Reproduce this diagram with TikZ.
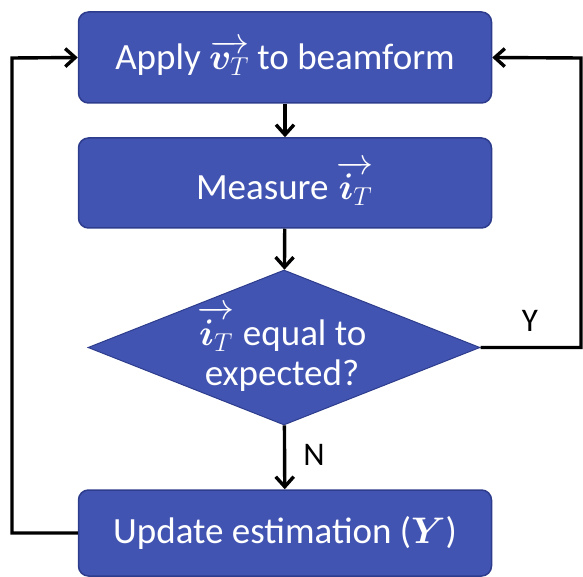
\RequirePackage{fix-cm}
\documentclass[tikz,border=0pt]{standalone}
\usepackage{fontspec}
\usepackage{amsmath,bm}
\setmainfont{Carlito}
\usetikzlibrary{shapes.geometric,arrows.meta}
\definecolor{boxfill}{RGB}{66,84,178}
\definecolor{boxedge}{RGB}{45,60,140}
\begin{document}
\begin{tikzpicture}[x=1pt,y=-1pt,
  bigfont/.style={font=\fontsize{37}{41}\selectfont},
  procbox/.style={draw=boxedge,line width=1.5pt,fill=boxfill,rounded corners=10pt,
    minimum width=413pt,minimum height=91pt,text=white,bigfont,inner sep=0pt},
  decbox/.style={diamond,draw=boxedge,line width=1pt,fill=boxfill,aspect=2.53,
    minimum width=392pt,minimum height=155pt,inner sep=0pt},
  conn/.style={line width=3.4pt,black,-{Straight Barb[length=10pt,width=18pt,line width=3.4pt]}},
  lbl/.style={font=\fontsize{33}{36}\selectfont,text=black}]
\useasboundingbox (0,0) rectangle (583,577);
\node[procbox] (apply) at (285,57.5) {Apply $\overrightarrow{\bm{v}_{T}}$ to beamform};
\node[procbox,minimum height=90pt] (measure) at (285,183) {Measure $\overrightarrow{\bm{i}_{T}}$};
\node[decbox] (eq) at (284,347.5) {};
\node[text=white,bigfont,align=center,inner sep=0pt] (eqtext) at (282,349) {$\overrightarrow{\bm{i}_{T}}$ equal to\\[-1pt] expected?};
\node[procbox,minimum height=86pt] (update) at (285,533) {Update estimation ($\bm{Y}$)};
\coordinate (lt) at (12,533);
\coordinate (lb) at (12,58);
\coordinate (rt) at (581,347.5);
\coordinate (rb) at (581,58);
\draw[conn] (apply) -- (measure);
\draw[conn] (measure) -- (eq);
\draw[conn] (eq) -- (update);
\draw[conn] (update.west) -- (lt) -- (lb) -- (apply.west);
\draw[conn] (eq.east) -- (rt) -- (rb) -- (apply.east);
\node[lbl] (ylbl) at (530,321) {Y};
\node[lbl] (nlbl) at (314,455) {N};
\end{tikzpicture}
\end{document}
